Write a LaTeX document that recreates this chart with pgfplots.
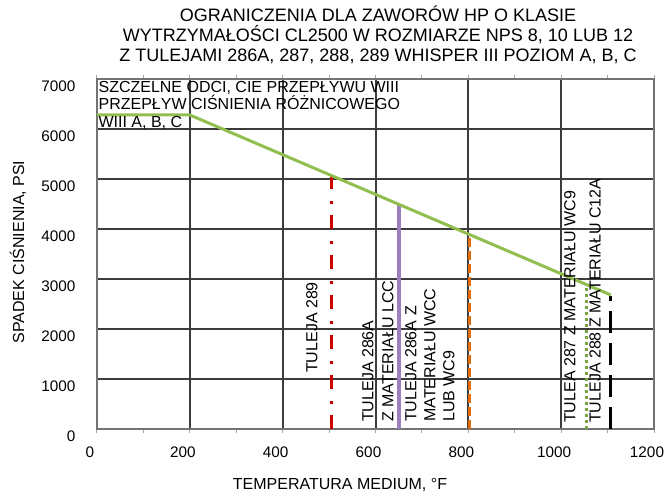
\documentclass[border=0pt]{standalone}
\usepackage{fontspec}
\setmainfont{Liberation Sans}
\usepackage{pgfplots}
\pgfplotsset{compat=1.18}
\definecolor{cgreen}{RGB}{146,190,80}
\definecolor{cred}{RGB}{204,0,0}
\definecolor{cpurple}{RGB}{155,128,190}
\definecolor{corange}{RGB}{228,108,10}
\definecolor{colive}{RGB}{120,165,60}
\definecolor{cgrid}{RGB}{60,60,60}
\newcommand{\fs}{\fontsize{16}{17.5}\selectfont}
\newcommand{\fts}{\fontsize{15.3}{17}\selectfont}
\begin{document}
\begin{tikzpicture}[x=1pt,y=1pt]
\useasboundingbox (0,0) rectangle (665,500);
\begin{axis}[at={(97pt,71pt)}, anchor=south west, scale only axis, width=557pt, height=350pt,
 xmin=0,xmax=1200,ymin=0,ymax=7000,
 xtick={0,200,...,1200}, ytick={0,1000,...,7000},
 minor x tick num=1,
 grid=major, major grid style={cgrid, line width=2pt},
 axis line style={black!55, line width=1.5pt},
 tick align=outside, x tick style={black!35, line width=1pt}, major tick length=4pt, minor tick length=4pt,
 y tick style={draw=none},
 font=\fs, ticklabel style={font=\fts},
 /pgf/number format/assume math mode=true,
 /pgf/number format/1000 sep={},
 yticklabel style={xshift=-14pt,yshift=-7pt},
 xticklabel style={yshift=-10pt,xshift=-7pt},
 clip=false,
]
\addplot[cred, line width=3pt, dash pattern=on 14pt off 11pt on 3pt off 12pt] coordinates {(505,0) (505,5060)};
\addplot[cpurple, line width=4pt] coordinates {(650,0) (650,4490)};
\addplot[corange, line width=3pt, dash pattern=on 9pt off 4pt] coordinates {(802,0) (802,3850)};
\addplot[colive, line width=3pt, dash pattern=on 3pt off 3pt] coordinates {(1055,0) (1055,2840)};
\addplot[black, line width=3pt, dash pattern=on 22pt off 10pt] coordinates {(1107,0) (1107,2660)};
\addplot[cgreen, line width=3pt] coordinates {(0,6280) (200,6280) (1107,2680)};

\node[anchor=north west, align=left, inner sep=0pt, font=\fs] at (axis cs:3,6960) {SZCZELNE ODCI, CIE PRZEPŁYWU WIII\\PRZEPŁYW CIŚNIENIA RÓŻNICOWEGO\\WIII A, B, C};
\node[rotate=90, anchor=west, inner sep=0pt, font=\fs] at (axis cs:463,1120) {TULEJA 289};
\node[rotate=90, anchor=west, align=left, inner sep=0pt, font=\fontsize{16}{20}\selectfont] at (axis cs:605,140) {TULEJA 286A\\Z MATERIAŁU LCC};
\node[rotate=90, anchor=west, align=left, inner sep=0pt, font=\fontsize{16}{19}\selectfont] at (axis cs:717,140) {TULEJA 286A Z\\MATERIAŁU WCC\\LUB WC9};
\node[rotate=90, anchor=west, inner sep=0pt, font=\fs] at (axis cs:1019,120) {TULEA 287 Z MATERIAŁU WC9};
\node[rotate=90, anchor=west, inner sep=0pt, font=\fs] at (axis cs:1073,120) {TULEJA 288 Z MATERIAŁU C12A};
\end{axis}
\node[font=\fontsize{18}{20}\selectfont, align=center] at (378,465) {OGRANICZENIA DLA ZAWORÓW HP O KLASIE\\WYTRZYMAŁOŚCI CL2500 W ROZMIARZE NPS 8, 10 LUB 12\\Z TULEJAMI 286A, 287, 288, 289 WHISPER III POZIOM A, B, C};
\node[rotate=90, font=\fs] at (18,248) {SPADEK CIŚNIENIA, PSI};
\node[font=\fs] at (340,15) {TEMPERATURA MEDIUM, °F};
\end{tikzpicture}
\end{document}
